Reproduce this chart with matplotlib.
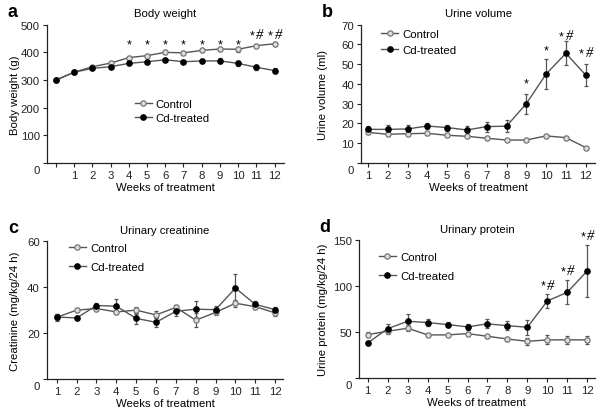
import matplotlib
matplotlib.use('Agg')
import matplotlib.pyplot as plt
from matplotlib.transforms import ScaledTranslation

plt.rcParams['font.family'] = ['Liberation Sans', 'DejaVu Sans']
plt.rcParams['font.size'] = 8.2

# ---- data ----
weeks_bw = list(range(0, 13))
bw_control = [300, 328, 348, 361, 381, 388, 400, 398, 407, 412, 411, 424, 431]
bw_control_err = [4, 4, 4, 4, 5, 5, 5, 5, 5, 6, 9, 5, 7]
bw_cd = [300, 328, 342, 348, 360, 366, 373, 366, 369, 369, 360, 346, 334]
bw_cd_err = [4, 4, 4, 5, 5, 5, 5, 6, 8, 9, 9, 9, 9]
bw_marks_x = [4, 5, 6, 7, 8, 9, 10, 11, 12]
bw_marks_y = [428, 428, 428, 428, 428, 428, 428, 464, 464]
bw_marks = ['*', '*', '*', '*', '*', '*', '*', '*#', '*#']

weeks = list(range(1, 13))
uv_control = [15.5, 14.5, 14.8, 15.0, 14.0, 13.5, 12.5, 11.6, 11.6, 13.7, 12.8, 7.8]
uv_control_err = [0.8, 0.7, 0.7, 0.7, 0.6, 0.6, 0.6, 0.5, 0.5, 0.6, 0.6, 0.5]
uv_cd = [17.0, 17.0, 17.2, 18.7, 17.9, 16.7, 18.4, 18.6, 30.0, 45.0, 55.5, 44.5]
uv_cd_err = [1.5, 2.0, 2.0, 1.5, 1.5, 2.0, 2.5, 3.0, 5.0, 7.8, 6.0, 5.8]
uv_marks_x = [9, 10, 11, 12]
uv_marks_y = [40, 57, 64.5, 56]
uv_marks = ['*', '*', '*#', '*#']

cr_control = [26.9, 30.0, 30.7, 29.2, 30.0, 27.9, 31.2, 25.6, 29.0, 33.0, 31.5, 28.8]
cr_control_err = [1.5, 0.8, 1.0, 1.0, 1.5, 1.5, 1.0, 3.0, 1.0, 1.5, 1.0, 1.5]
cr_cd = [27.0, 26.6, 32.0, 31.7, 26.4, 24.7, 29.5, 30.4, 30.2, 39.6, 32.5, 30.2]
cr_cd_err = [1.5, 1.0, 1.0, 3.0, 2.5, 2.0, 2.0, 3.5, 1.5, 6.0, 1.5, 1.0]

up_control = [47.3, 51.0, 54.2, 47.0, 47.0, 48.4, 45.5, 42.6, 40.0, 41.6, 41.6, 41.6]
up_control_err = [3.0, 3.0, 3.0, 1.5, 1.5, 2.0, 1.5, 2.5, 4.0, 5.0, 4.0, 4.0]
up_cd = [38.3, 53.8, 61.8, 60.4, 58.2, 55.7, 59.0, 57.0, 55.3, 83.8, 93.2, 116.4]
up_cd_err = [2.0, 5.0, 8.0, 4.0, 3.0, 3.0, 5.0, 5.0, 8.0, 7.8, 13.0, 27.8]
up_marks_x = [10, 11, 12]
up_marks_y = [101, 117, 155]
up_marks = ['*#', '*#', '*#']

line_col = '#555555'
ctrl_face = '#dddddd'
ctrl_edge = '#777777'

fig = plt.figure(figsize=(6.01, 4.14), dpi=100)


def put_mark(ax, mx, my, m):
    if m == '*':
        ax.text(mx, my, '*', ha='center', va='center', fontsize=9,
                clip_on=False)
    else:
        ax.annotate('*', (mx, my), xytext=(-3.2, -0.5),
                    textcoords='offset points', ha='center', va='center',
                    fontsize=9, annotation_clip=False)
        ax.annotate('#', (mx, my), xytext=(2.6, 0),
                    textcoords='offset points', ha='center', va='center',
                    fontsize=10.5, family='Liberation Serif', style='italic',
                    annotation_clip=False)


def add_panel(rect, x, ctrl, ctrl_err, cd, cd_err, ylim, yticks, xlim, xticks,
              xticklabels, title, ylabel, ylabel_x, letter, leg_anchor, leg_space,
              marks_x=None, marks_y=None, marks=None):
    ax = fig.add_axes(rect)
    ax.errorbar(x, ctrl, yerr=ctrl_err, fmt='none', ecolor=line_col,
                elinewidth=0.9, capsize=1.5, capthick=0.9, zorder=2)
    ax.errorbar(x, cd, yerr=cd_err, fmt='none', ecolor=line_col,
                elinewidth=0.9, capsize=1.5, capthick=0.9, zorder=2)
    ax.plot(x, ctrl, color=line_col, lw=1.0, marker='o', ms=3.8,
            mfc=ctrl_face, mec=ctrl_edge, mew=0.9, label='Control', zorder=3)
    ax.plot(x, cd, color=line_col, lw=1.0, marker='o', ms=3.8,
            mfc='black', mec='black', label='Cd-treated', zorder=4)
    if marks is not None:
        for mx, my, m in zip(marks_x, marks_y, marks):
            put_mark(ax, mx, my, m)
    ax.set_xlim(*xlim)
    ax.set_ylim(*ylim)
    ax.set_yticks(yticks)
    ax.set_xticks(xticks)
    ax.set_xticklabels(xticklabels)
    for s in ['top', 'right']:
        ax.spines[s].set_visible(False)
    for s in ['left', 'bottom']:
        ax.spines[s].set_linewidth(0.9)
        ax.spines[s].set_color('#222222')
    ax.tick_params(direction='out', length=3, width=0.8, pad=2,
                   labelsize=8.2, colors='#222222')
    # the zero label sits a little lower than the axis line
    lab0 = ax.get_yticklabels()[0]
    lab0.set_transform(lab0.get_transform() +
                       ScaledTranslation(0, -6 / 100, fig.dpi_scale_trans))
    ax.set_xlabel('Weeks of treatment', fontsize=8.2, labelpad=1.5)
    ax.set_ylabel(ylabel, fontsize=8.2)
    ax.yaxis.set_label_coords(ylabel_x, 0.5)
    ax.set_title(title, fontsize=8.2, pad=6)
    ax.legend(loc='upper left', bbox_to_anchor=leg_anchor, frameon=False,
              borderpad=0, borderaxespad=0, handlelength=1.5,
              handletextpad=0.35, labelspacing=leg_space, fontsize=8.2)
    fig.text(rect[0] - 0.065, rect[1] + rect[3] + 0.032, letter,
             fontsize=13, fontweight='bold', va='center', ha='left')
    return ax


add_panel([0.078, 0.604, 0.394, 0.334], weeks_bw, bw_control, bw_control_err,
          bw_cd, bw_cd_err, (0, 500), range(0, 501, 100), (-0.5, 12.5),
          weeks_bw, [''] + [str(w) for w in weeks], 'Body weight',
          'Body weight (g)', -0.114, 'a', (0.371, 0.46), 0.35,
          bw_marks_x, bw_marks_y, bw_marks)

add_panel([0.601, 0.604, 0.389, 0.334], weeks, uv_control, uv_control_err,
          uv_cd, uv_cd_err, (0, 70), range(0, 71, 10), (0.66, 12.47),
          weeks, [str(w) for w in weeks], 'Urine volume',
          'Urine volume (ml)', -0.141, 'b', (0.085, 0.97), 0.5,
          uv_marks_x, uv_marks_y, uv_marks)

add_panel([0.078, 0.082, 0.393, 0.333], weeks, cr_control, cr_control_err,
          cr_cd, cr_cd_err, (0, 60), range(0, 61, 20), (0.5, 12.4),
          weeks, [str(w) for w in weeks], 'Urinary creatinine',
          'Creatinine (mg/kg/24 h)', -0.114, 'c', (0.093, 0.985), 0.78)

add_panel([0.597, 0.084, 0.393, 0.334], weeks, up_control, up_control_err,
          up_cd, up_cd_err, (0, 150), range(0, 151, 50), (0.55, 12.39),
          weeks, [str(w) for w in weeks], 'Urinary protein',
          'Urine protein (mg/kg/24 h)', -0.131, 'd', (0.085, 0.915), 0.78,
          up_marks_x, up_marks_y, up_marks)

fig.savefig('out.png', dpi=100)
